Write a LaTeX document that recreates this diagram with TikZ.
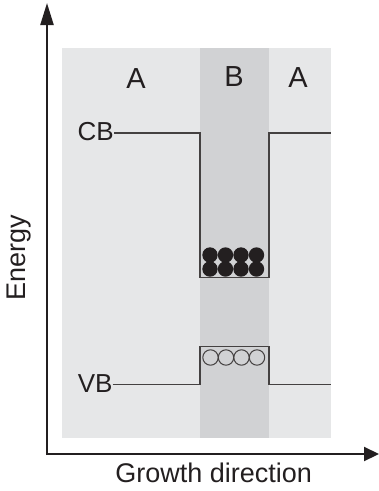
\documentclass[tikz,border=0pt]{standalone}
\usepackage{fontspec}
\setmainfont{Liberation Sans}
\usetikzlibrary{arrows.meta}
\definecolor{bgA}{HTML}{E6E7E8}
\definecolor{bgB}{HTML}{D1D2D4}
\definecolor{ink}{HTML}{231F20}
\begin{document}
\begin{tikzpicture}[x=1pt,y=-1pt,
  axis/.style={draw=ink, line width=2.2pt},
  band/.style={draw=ink!85, line width=1.2pt},
  lbl/.style={inner sep=0pt, anchor=base, text=ink, font=\fontsize{26}{31}\selectfont},
  title/.style={lbl, font=\fontsize{27}{32}\selectfont},
  big/.style={lbl, font=\fontsize{29}{34}\selectfont},
  electron/.style={fill=ink, draw=none},
  hole/.style={draw=ink!85, line width=1pt, fill=none}]
\useasboundingbox (0,0) rectangle (379,491);

% material layers
\fill[bgA] (62,48) rectangle (331,438);
\fill[bgB] (200,48) rectangle (269,438);

% layer labels
\node[big] (la) at (136,88) {A};
\node[big] (lb) at (234,86.5) {B};
\node[big] (lc) at (298,87.5) {A};

% band edge labels
\node[lbl, anchor=base east] (cb) at (114,140.7) {CB};
\node[lbl, anchor=base east] (vb) at (112.7,392.3) {VB};

% band edge corners
\coordinate (c1) at (114,133);
\coordinate (c2) at (200,133);
\coordinate (c3) at (200,277.5);
\coordinate (c4) at (269,277.5);
\coordinate (c5) at (269,133);
\coordinate (c6) at (331,133);
\coordinate (v1) at (112.7,384.5);
\coordinate (v2) at (200,384.5);
\coordinate (v3) at (200,346.5);
\coordinate (v4) at (269,346.5);
\coordinate (v5) at (269,384.5);
\coordinate (v6) at (331,384.5);

% conduction and valence band profiles
\draw[band] (c1) -- (c2) -- (c3) -- (c4) -- (c5) -- (c6);
\draw[band] (v1) -- (v2) -- (v3) -- (v4) -- (v5) -- (v6);

% confined electrons
\foreach \x in {210,225.5,241,256.5}
  \foreach \y in {255,269}
    \fill[electron] (\x,\y) circle (7.7);

% confined holes
\foreach \x in {210.5,226,241.5,257}
  \draw[hole] (\x,357.5) circle (7.7);

% axes
\coordinate (o) at (47,454);
\coordinate (ytop) at (47,3);
\coordinate (xend) at (379,454);
\draw[axis, -{Triangle[length=22pt,width=13pt]}] ([yshift=-1.1pt]o) -- (ytop);
\draw[axis, -{Triangle[length=15pt,width=14pt]}] ([xshift=-1.1pt]o) -- (xend);

% axis titles
\node[title, rotate=90] (energy) at (25,257.5) {Energy};
\node[title] (growth) at (213.7,482.5) {Growth direction};
\end{tikzpicture}
\end{document}
